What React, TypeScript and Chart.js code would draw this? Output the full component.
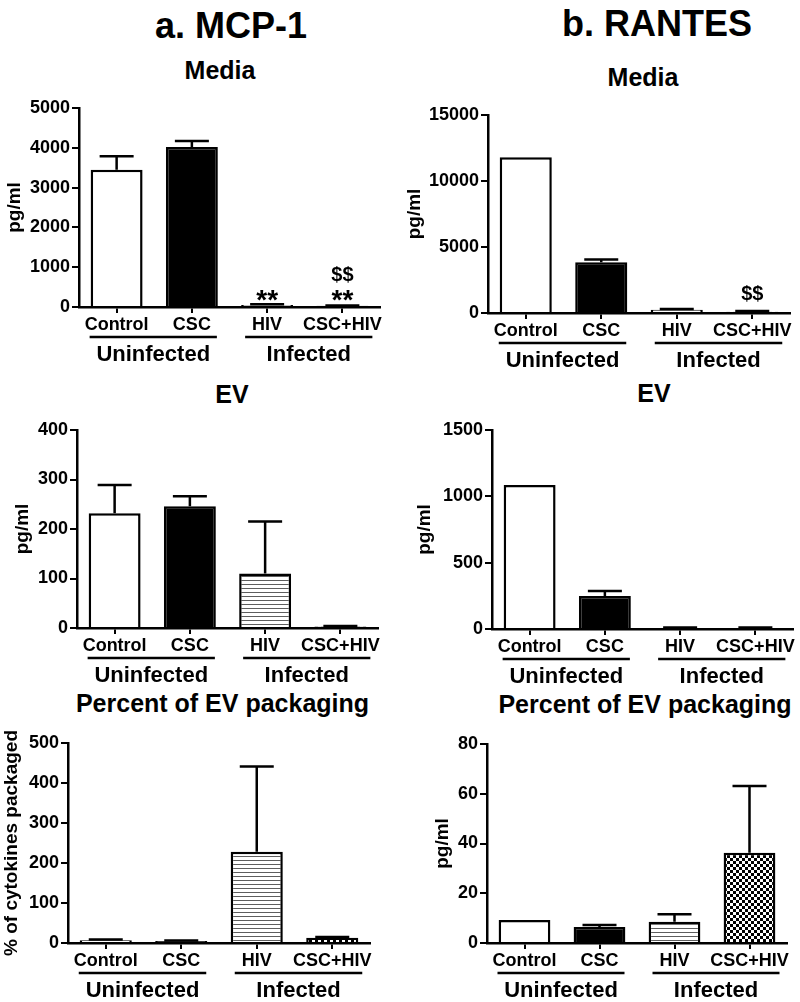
import React, { useEffect, useRef } from 'react';
import { Chart, registerables } from 'chart.js';

Chart.register(...registerables);

// ---------- data ----------
const CATEGORIES = ['Control', 'CSC', 'HIV', 'CSC+HIV'];
const GROUP_LABELS = ['Uninfected', 'Infected'];
const GROUP_RANGES = [[0, 1], [2, 3]];

const MCP1_MEDIA = [3450, 4020, 50, 30];
const MCP1_MEDIA_ERR = [340, 150, 20, 10];
const MCP1_MEDIA_TICKS = [0, 1000, 2000, 3000, 4000, 5000];

const RANTES_MEDIA = [11800, 3850, 250, 100];
const RANTES_MEDIA_ERR = [0, 200, 60, 50];
const RANTES_MEDIA_TICKS = [0, 5000, 10000, 15000];

const MCP1_EV = [232, 246, 110, 3];
const MCP1_EV_ERR = [57, 20, 105, 1];
const MCP1_EV_TICKS = [0, 100, 200, 300, 400];

const RANTES_EV = [1085, 249, 8, 8];
const RANTES_EV_ERR = [0, 37, 3, 3];
const RANTES_EV_TICKS = [0, 500, 1000, 1500];

const MCP1_PCT = [7, 5, 228, 13];
const MCP1_PCT_ERR = [2, 1, 213, 2];
const MCP1_PCT_TICKS = [0, 100, 200, 300, 400, 500];

const RANTES_PCT = [9.2, 6.4, 8.5, 36.3];
const RANTES_PCT_ERR = [0, 0.8, 3.1, 26.8];
const RANTES_PCT_TICKS = [0, 20, 40, 60, 80];

// ---------- layout / style ----------
const FONT = "'Liberation Sans', Arial, Helvetica, sans-serif";

const TITLES = [
  { text: 'a. MCP-1', cx: 231, cy: 25.5, size: 36 },
  { text: 'b. RANTES', cx: 657, cy: 24, size: 36 },
  { text: 'Media', cx: 220, cy: 70, size: 25 },
  { text: 'Media', cx: 643, cy: 77, size: 25 },
  { text: 'EV', cx: 232, cy: 394, size: 25 },
  { text: 'EV', cx: 654, cy: 393, size: 25 },
  { text: 'Percent of EV packaging', cx: 222.5, cy: 703, size: 25 },
  { text: 'Percent of EV packaging', cx: 645, cy: 704, size: 25 },
];

type PanelCfg = {
  L: number; T: number; W: number; H: number;
  axisX: number; plotTop: number; plotRight: number; plotBottom: number;
  yTitle: string; yTitleX: number; yTitleSize: number;
  values: number[]; errors: number[]; ticks: number[];
  marks: { i: number; text: string; size: number; dy: number }[];
};

const PANELS: PanelCfg[] = [
  {
    L: 0, T: 80, W: 400, H: 300, axisX: 79, plotTop: 108, plotRight: 380, plotBottom: 307,
    yTitle: 'pg/ml', yTitleX: 15, yTitleSize: 19,
    values: MCP1_MEDIA, errors: MCP1_MEDIA_ERR, ticks: MCP1_MEDIA_TICKS,
    marks: [
      { i: 2, text: '**', size: 28, dy: -9 },
      { i: 3, text: '**', size: 28, dy: -10 },
      { i: 3, text: '$$', size: 20, dy: -31 },
    ],
  },
  {
    L: 400, T: 80, W: 400, H: 300, axisX: 488, plotTop: 115, plotRight: 790, plotBottom: 313,
    yTitle: 'pg/ml', yTitleX: 415, yTitleSize: 19,
    values: RANTES_MEDIA, errors: RANTES_MEDIA_ERR, ticks: RANTES_MEDIA_TICKS,
    marks: [{ i: 3, text: '$$', size: 20, dy: -18 }],
  },
  {
    L: 0, T: 400, W: 400, H: 300, axisX: 77, plotTop: 430, plotRight: 378, plotBottom: 628,
    yTitle: 'pg/ml', yTitleX: 23, yTitleSize: 19,
    values: MCP1_EV, errors: MCP1_EV_ERR, ticks: MCP1_EV_TICKS, marks: [],
  },
  {
    L: 400, T: 400, W: 400, H: 300, axisX: 492, plotTop: 430, plotRight: 793, plotBottom: 629,
    yTitle: 'pg/ml', yTitleX: 425, yTitleSize: 19,
    values: RANTES_EV, errors: RANTES_EV_ERR, ticks: RANTES_EV_TICKS, marks: [],
  },
  {
    L: 0, T: 720, W: 400, H: 282, axisX: 68, plotTop: 743, plotRight: 370, plotBottom: 943,
    yTitle: '% of cytokines packaged', yTitleX: 12, yTitleSize: 19,
    values: MCP1_PCT, errors: MCP1_PCT_ERR, ticks: MCP1_PCT_TICKS, marks: [],
  },
  {
    L: 400, T: 720, W: 400, H: 282, axisX: 487, plotTop: 744, plotRight: 787, plotBottom: 943,
    yTitle: 'pg/ml', yTitleX: 443, yTitleSize: 19,
    values: RANTES_PCT, errors: RANTES_PCT_ERR, ticks: RANTES_PCT_TICKS, marks: [],
  },
];

function makeStripes(): CanvasPattern | string {
  const c = document.createElement('canvas');
  c.width = 4; c.height = 4;
  const g = c.getContext('2d');
  if (!g) return '#ccc';
  g.fillStyle = '#fff'; g.fillRect(0, 0, 4, 4);
  g.fillStyle = '#5e5e5e'; g.fillRect(0, 0, 4, 1);
  return g.createPattern(c, 'repeat') || '#ccc';
}

function makeChecker(): CanvasPattern | string {
  const c = document.createElement('canvas');
  c.width = 6; c.height = 6;
  const g = c.getContext('2d');
  if (!g) return '#888';
  g.fillStyle = '#fff'; g.fillRect(0, 0, 6, 6);
  g.fillStyle = '#000'; g.fillRect(0, 0, 3, 3); g.fillRect(3, 3, 3, 3);
  return g.createPattern(c, 'repeat') || '#888';
}

const extrasPlugin = {
  id: 'extras',
  afterDatasetsDraw(chart: any, _args: any, opts: any) {
    const ctx = chart.ctx as CanvasRenderingContext2D;
    const meta = chart.getDatasetMeta(0);
    const y = chart.scales.y;
    const vals = chart.data.datasets[0].data as number[];
    ctx.save();
    ctx.strokeStyle = '#000';
    ctx.lineWidth = 2.5;
    (opts.errors as number[]).forEach((e, i) => {
      if (!e) return;
      const el = meta.data[i];
      const top = y.getPixelForValue(vals[i]);
      const end = y.getPixelForValue(vals[i] + e);
      ctx.beginPath();
      ctx.moveTo(el.x, top);
      ctx.lineTo(el.x, end);
      ctx.moveTo(el.x - 17, end);
      ctx.lineTo(el.x + 17, end);
      ctx.stroke();
    });
    ctx.restore();
  },
  afterDraw(chart: any, _args: any, opts: any) {
    const ctx = chart.ctx as CanvasRenderingContext2D;
    const x = chart.scales.x;
    const y = chart.scales.y;
    const bottom = chart.chartArea.bottom;
    const vals = chart.data.datasets[0].data as number[];
    ctx.save();
    ctx.strokeStyle = '#000';
    ctx.fillStyle = '#000';
    ctx.lineWidth = 2.5;
    const pads = [[-27, 25], [-22, 30]];
    GROUP_RANGES.forEach((r, gi) => {
      const x0 = x.getPixelForValue(r[0]) + pads[gi][0];
      const x1 = x.getPixelForValue(r[1]) + pads[gi][1];
      const ly = bottom + 30;
      ctx.beginPath();
      ctx.moveTo(x0, ly);
      ctx.lineTo(x1, ly);
      ctx.stroke();
      ctx.font = `bold 22px ${FONT}`;
      ctx.textAlign = 'center';
      ctx.textBaseline = 'middle';
      ctx.fillText(GROUP_LABELS[gi], (x0 + x1) / 2, bottom + 48);
    });
    (opts.marks as any[]).forEach((m) => {
      const cx = x.getPixelForValue(m.i);
      const target = y.getPixelForValue(vals[m.i] + (opts.errors[m.i] || 0)) + m.dy;
      ctx.font = `bold ${m.size}px ${FONT}`;
      ctx.textAlign = 'center';
      ctx.textBaseline = 'alphabetic';
      const mt = ctx.measureText(m.text);
      const base = target + (mt.actualBoundingBoxAscent - mt.actualBoundingBoxDescent) / 2;
      ctx.fillText(m.text, cx, base);
    });
    ctx.restore();
  },
};

function Panel({ cfg }: { cfg: PanelCfg }) {
  const ref = useRef<HTMLCanvasElement | null>(null);
  useEffect(() => {
    if (!ref.current) return;
    const stripes = makeStripes();
    const checker = makeChecker();
    const tickFont = { family: FONT, size: 18, weight: 'bold' as const, lineHeight: 1 };
    const chart = new Chart(ref.current, {
      type: 'bar',
      data: {
        labels: CATEGORIES,
        datasets: [
          {
            data: cfg.values,
            backgroundColor: ['#ffffff', '#000000', stripes as any, checker as any],
            borderColor: '#000',
            borderWidth: 2.5,
            barPercentage: 0.69,
            categoryPercentage: 1,
          },
        ],
      },
      plugins: [extrasPlugin as any],
      options: {
        responsive: false,
        animation: false,
        devicePixelRatio: 1,
        layout: {
          padding: {
            left: 0,
            top: cfg.plotTop - cfg.T,
            right: cfg.L + cfg.W - cfg.plotRight,
            bottom: 0,
          },
        },
        plugins: {
          legend: { display: false },
          tooltip: { enabled: false },
          extras: { errors: cfg.errors, marks: cfg.marks },
        } as any,
        scales: {
          x: {
            type: 'category',
            offset: true,
            grid: {
              display: true,
              drawOnChartArea: false,
              drawTicks: true,
              tickLength: 6,
              offset: false,
              color: '#000',
              lineWidth: 2,
            },
            border: { display: true, color: '#000', width: 2.5 },
            ticks: {
              color: '#000',
              font: tickFont,
              padding: 3,
              maxRotation: 0,
              minRotation: 0,
              autoSkip: false,
            },
            afterFit: (s: any) => {
              s.height = cfg.T + cfg.H - cfg.plotBottom;
              s.paddingLeft = 0;
              s.paddingRight = 0;
            },
          },
          y: {
            min: 0,
            max: cfg.ticks[cfg.ticks.length - 1],
            afterBuildTicks: (s: any) => {
              s.ticks = cfg.ticks.map((v) => ({ value: v }));
            },
            grid: {
              display: true,
              drawOnChartArea: false,
              drawTicks: true,
              tickLength: 7,
              color: '#000',
              lineWidth: 2,
            },
            border: { display: true, color: '#000', width: 2.5 },
            ticks: {
              color: '#000',
              font: tickFont,
              padding: 2,
              callback: (v: any) => String(v),
            },
            title: {
              display: true,
              text: cfg.yTitle,
              color: '#000',
              font: { family: FONT, size: cfg.yTitleSize, weight: 'bold', lineHeight: 1 },
              padding: { top: cfg.yTitleX - cfg.L - cfg.yTitleSize / 2, bottom: 0 },
            },
            afterFit: (s: any) => {
              s.width = cfg.axisX - cfg.L;
              s.paddingTop = 0;
              s.paddingBottom = 0;
            },
          },
        },
      } as any,
    });
    return () => chart.destroy();
  }, [cfg]);
  return (
    <canvas
      ref={ref}
      width={cfg.W}
      height={cfg.H}
      style={{ position: 'absolute', left: cfg.L, top: cfg.T, width: cfg.W, height: cfg.H }}
    />
  );
}

export default function App() {
  return (
    <div
      style={{
        position: 'absolute',
        left: 0,
        top: 0,
        width: 800,
        height: 1002,
        background: '#fff',
        overflow: 'hidden',
      }}
    >
      {TITLES.map((t, i) => (
        <div
          key={i}
          style={{
            position: 'absolute',
            left: t.cx - 200,
            top: t.cy - t.size / 2,
            width: 400,
            textAlign: 'center',
            fontFamily: FONT,
            fontWeight: 'bold',
            fontSize: t.size,
            lineHeight: `${t.size}px`,
            color: '#000',
            whiteSpace: 'nowrap',
          }}
        >
          {t.text}
        </div>
      ))}
      {PANELS.map((p, i) => (
        <Panel key={i} cfg={p} />
      ))}
    </div>
  );
}
